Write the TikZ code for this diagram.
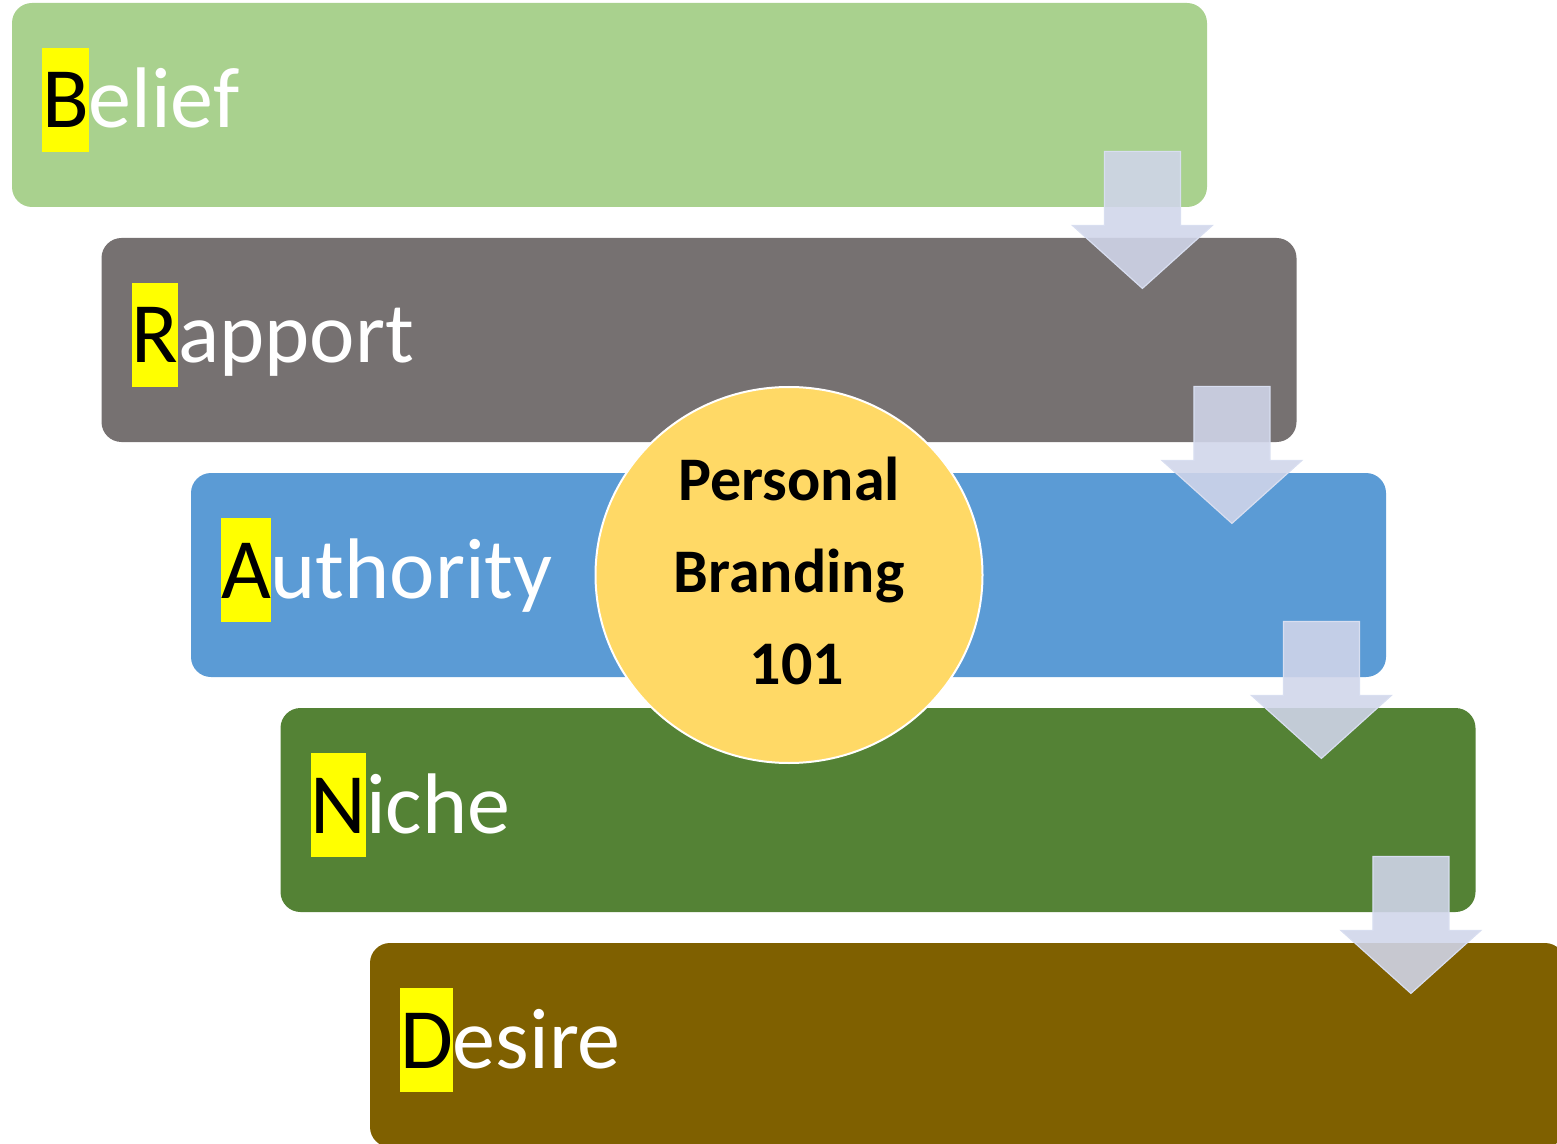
\documentclass[tikz,border=0pt]{standalone}
\usepackage{fontspec}
\setmainfont{Carlito}
\usetikzlibrary{shapes.geometric}
\definecolor{belief}{HTML}{A9D18E}
\definecolor{rapport}{HTML}{767171}
\definecolor{authority}{HTML}{5B9BD5}
\definecolor{niche}{HTML}{548235}
\definecolor{desire}{HTML}{7F6000}
\definecolor{hubfill}{HTML}{FFD966}
\definecolor{marker}{RGB}{255,255,0}
\definecolor{arrowfill}{RGB}{208,213,234}
\definecolor{arrowline}{RGB}{216,222,240}
\tikzstyle{stagebox} = [rectangle, rounded corners=10pt, minimum width=597.5pt, minimum height=102pt, inner sep=0pt, draw=none]
\tikzstyle{stagetext} = [anchor=base west, inner sep=0pt, text=white, font=\fontsize{43}{52}\selectfont]
\tikzstyle{flowarrow} = [fill=arrowfill, fill opacity=0.89, draw=arrowline, line width=0.6pt]
\tikzstyle{hub} = [ellipse, minimum width=193.5pt, minimum height=188pt, fill=hubfill, draw=white, line width=1pt, align=center, text depth=4.5pt, font=\fontsize{31}{46}\selectfont\bfseries]
\newcommand{\firstletter}[1]{{\setlength{\fboxsep}{0pt}\colorbox{marker}{\color{black}\rule[-0.28em]{0pt}{1.21em}#1}}}

\begin{document}
\begin{tikzpicture}[x=0.5pt, y=-0.5pt, node distance=117.5pt]
\clip (0,0) rectangle (1557,1144);

\node (bel) [stagebox, fill=belief] at (609.5,105) {};
\node (rap) [stagebox, fill=rapport, below of=bel, xshift=44.75pt] {};
\node (aut) [stagebox, fill=authority, below of=rap, xshift=44.75pt] {};
\node (nic) [stagebox, fill=niche, below of=aut, xshift=44.75pt] {};
\node (des) [stagebox, fill=desire, below of=nic, xshift=44.75pt] {};

\node (tbel) [stagetext] at ([shift={(30,23)}]bel.west) {\firstletter{B}elief};
\node (trap) [stagetext] at ([shift={(30,23)}]rap.west) {\firstletter{R}apport};
\node (taut) [stagetext] at ([shift={(30,23)}]aut.west) {\firstletter{A}uthority};
\node (tnic) [stagetext] at ([shift={(30,23)}]nic.west) {\firstletter{N}iche};
\node (tdes) [stagetext] at ([shift={(30,23)}]des.west) {\firstletter{D}esire};

\draw [flowarrow] ([shift={(-103,-56)}]bel.south east) -- ++(76,0) -- ++(0,74) -- ++(32,0) -- ++(-70,63) -- ++(-70,-63) -- ++(32,0) -- cycle;
\draw [flowarrow] ([shift={(-103,-56)}]rap.south east) -- ++(76,0) -- ++(0,74) -- ++(32,0) -- ++(-70,63) -- ++(-70,-63) -- ++(32,0) -- cycle;
\draw [flowarrow] ([shift={(-103,-56)}]aut.south east) -- ++(76,0) -- ++(0,74) -- ++(32,0) -- ++(-70,63) -- ++(-70,-63) -- ++(32,0) -- cycle;
\draw [flowarrow] ([shift={(-103,-56)}]nic.south east) -- ++(76,0) -- ++(0,74) -- ++(32,0) -- ++(-70,63) -- ++(-70,-63) -- ++(32,0) -- cycle;

\node (core) [hub] at (789,575) {Personal\\Branding\\\hspace*{8pt}101};

\end{tikzpicture}
\end{document}
